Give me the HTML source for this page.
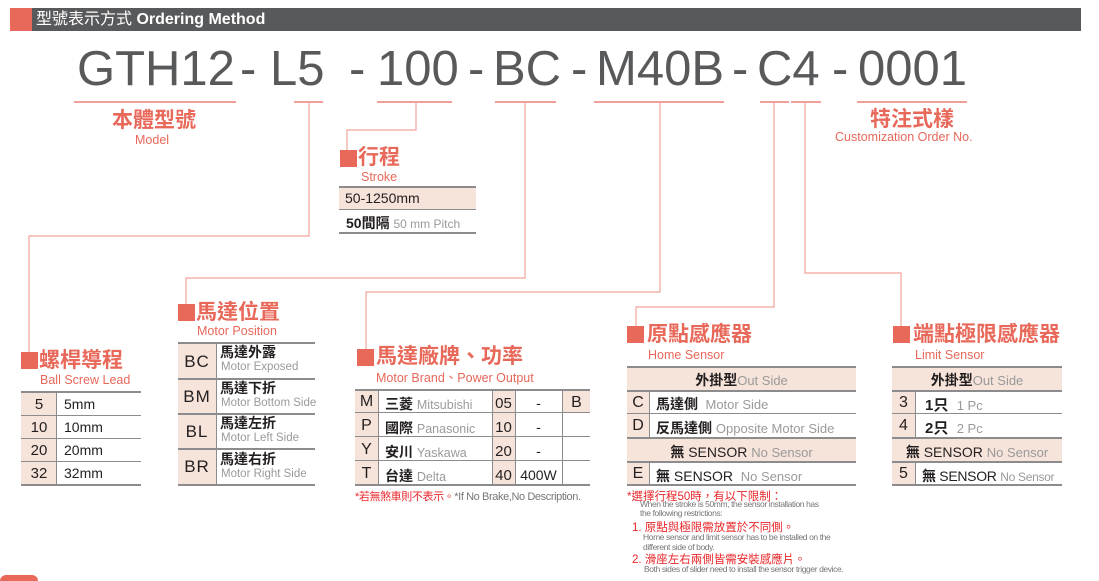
<!DOCTYPE html>
<html><head><meta charset="utf-8">
<style>
*{margin:0;padding:0;box-sizing:border-box}
body{width:1099px;height:577px;background:#fff;position:relative;overflow:hidden;font-family:"Liberation Sans","Noto Sans CJK TC",sans-serif;color:#231f20}
.a{position:absolute;white-space:nowrap}
.sq{position:absolute;width:17px;height:17px;background:#e8685a}
.ti{position:absolute;font-size:21px;font-weight:bold;color:#e8685a;line-height:22px;white-space:nowrap}
.en{position:absolute;font-size:12.5px;color:#e8685a;line-height:14px;white-space:nowrap}
.hl{position:absolute;background:#8c8c8e}
.pk{position:absolute;background:#f6e3d9}
.c{position:absolute;text-align:center;white-space:nowrap}
.g{color:#9a9a9a;font-weight:normal}
.b{font-weight:bold}
</style></head><body>
<!-- header -->
<div class="a" style="left:10px;top:8px;width:22px;height:23px;background:#e8685a"></div>
<div class="a" style="left:32px;top:8px;width:1049px;height:23px;background:#58595b"></div>
<div class="a" style="left:36px;top:10px;font-size:16px;color:#fff;line-height:20px">型號表示方式 <b>Ordering Method</b></div>

<svg class="a" style="left:0;top:0" width="1099" height="577">
<g font-family="Liberation Sans,sans-serif" font-size="49" fill="#58595b">
<text x="77" y="85">GTH12</text><text x="240" y="85">-</text>
<text x="270" y="85">L5</text><text x="349" y="85">-</text>
<text x="377" y="85">100</text><text x="468" y="85">-</text>
<text x="493" y="85">BC</text><text x="571" y="85">-</text>
<text x="596" y="85">M40B</text><text x="732" y="85">-</text>
<text x="757" y="85">C4</text><text x="832" y="85">-</text>
<text x="858" y="85">0001</text>
</g>
<g stroke="#e8685a" stroke-width="1.2">
<line x1="74" y1="102" x2="236" y2="102"/>
<line x1="294" y1="102" x2="323" y2="102"/>
<line x1="377" y1="102" x2="452" y2="102"/>
<line x1="495" y1="102" x2="556" y2="102"/>
<line x1="594" y1="102" x2="724" y2="102"/>
<line x1="760" y1="102" x2="789" y2="102"/>
<line x1="791" y1="102" x2="821" y2="102"/>
<line x1="857" y1="102" x2="967" y2="102"/>
</g>
<g stroke="#f2a39b" stroke-width="1.2" fill="none">
<polyline points="309,102 309,236 29,236 29,354"/>
<polyline points="416,102 416,130 347,130 347,152"/>
<polyline points="525,102 525,278 186,278 186,305"/>
<polyline points="660,102 660,292 366,292 366,350"/>
<polyline points="774,102 774,307 636,307 636,328"/>
<polyline points="805,102 805,273 901,273 901,328"/>
</g>
</svg>

<!-- model -->
<div class="ti" style="left:112px;top:110px">本體型號</div>
<div class="en" style="left:135px;top:133px">Model</div>
<!-- custom -->
<div class="ti" style="left:870px;top:109px">特注式樣</div>
<div class="en" style="left:835px;top:130px">Customization Order No.</div>

<!-- stroke -->
<div class="sq" style="left:340px;top:150px"></div>
<div class="ti" style="left:358px;top:147px">行程</div>
<div class="en" style="left:361px;top:170px">Stroke</div>
<div class="pk" style="left:339px;top:188px;width:137px;height:21px"></div>
<div class="hl" style="left:339px;top:186px;width:137px;height:2px"></div>
<div class="hl" style="left:339px;top:209px;width:137px;height:1px"></div>
<div class="hl" style="left:339px;top:232px;width:137px;height:2px"></div>
<div class="a" style="left:345px;top:190px;font-size:14px">50-1250mm</div>
<div class="a" style="left:346px;top:213px;font-size:14px"><b>50間隔</b> <span class="g" style="font-size:12px">50 mm Pitch</span></div>

<!-- ball screw -->
<div class="sq" style="left:21px;top:352px"></div>
<div class="ti" style="left:39px;top:350px">螺桿導程</div>
<div class="en" style="left:40px;top:373px">Ball Screw Lead</div>
<div class="pk" style="left:21px;top:392px;width:36px;height:93px"></div>
<div class="hl" style="left:21px;top:391px;width:120px;height:2px"></div>
<div class="hl" style="left:21px;top:415px;width:120px;height:1px"></div>
<div class="hl" style="left:21px;top:438px;width:120px;height:1px"></div>
<div class="hl" style="left:21px;top:461px;width:120px;height:1px"></div>
<div class="hl" style="left:21px;top:484px;width:120px;height:2px"></div>
<div class="hl" style="left:56px;top:392px;width:1px;height:93px"></div>
<div class="c" style="left:21px;width:36px;top:396px;font-size:15px">5</div>
<div class="c" style="left:21px;width:36px;top:419px;font-size:15px">10</div>
<div class="c" style="left:21px;width:36px;top:442px;font-size:15px">20</div>
<div class="c" style="left:21px;width:36px;top:465px;font-size:15px">32</div>
<div class="a" style="left:64px;top:396px;font-size:14px">5mm</div>
<div class="a" style="left:64px;top:419px;font-size:14px">10mm</div>
<div class="a" style="left:64px;top:442px;font-size:14px">20mm</div>
<div class="a" style="left:64px;top:465px;font-size:14px">32mm</div>

<!-- motor position -->
<div class="sq" style="left:178px;top:304px"></div>
<div class="ti" style="left:196px;top:302px">馬達位置</div>
<div class="en" style="left:197px;top:324px">Motor Position</div>
<div class="pk" style="left:178px;top:344px;width:38px;height:141px"></div>
<div class="hl" style="left:178px;top:342px;width:137px;height:2px"></div>
<div class="hl" style="left:178px;top:378px;width:137px;height:2px"></div>
<div class="hl" style="left:178px;top:413px;width:137px;height:2px"></div>
<div class="hl" style="left:178px;top:448px;width:137px;height:2px"></div>
<div class="hl" style="left:178px;top:484px;width:137px;height:2px"></div>
<div class="hl" style="left:216px;top:344px;width:1px;height:141px"></div>
<div class="c" style="left:178px;width:38px;top:352px;font-size:17px;letter-spacing:1px">BC</div>
<div class="c" style="left:178px;width:38px;top:387px;font-size:17px;letter-spacing:1px">BM</div>
<div class="c" style="left:178px;width:38px;top:422px;font-size:17px;letter-spacing:1px">BL</div>
<div class="c" style="left:178px;width:38px;top:457px;font-size:17px;letter-spacing:1px">BR</div>
<div class="a b" style="left:220px;top:344px;font-size:14px;line-height:17px">馬達外露</div>
<div class="a g" style="left:221px;top:361px;font-size:11.5px">Motor Exposed</div>
<div class="a b" style="left:220px;top:380px;font-size:14px;line-height:17px">馬達下折</div>
<div class="a g" style="left:221px;top:397px;font-size:11.5px">Motor Bottom Side</div>
<div class="a b" style="left:220px;top:415px;font-size:14px;line-height:17px">馬達左折</div>
<div class="a g" style="left:221px;top:432px;font-size:11.5px">Motor Left Side</div>
<div class="a b" style="left:220px;top:451px;font-size:14px;line-height:17px">馬達右折</div>
<div class="a g" style="left:221px;top:468px;font-size:11.5px">Motor Right Side</div>

<!-- motor brand -->
<div class="sq" style="left:357px;top:349px"></div>
<div class="ti" style="left:376px;top:346px">馬達廠牌、功率</div>
<div class="en" style="left:376px;top:371px">Motor Brand、Power Output</div>
<div class="pk" style="left:355px;top:391px;width:23px;height:94px"></div>
<div class="pk" style="left:492px;top:391px;width:23px;height:94px"></div>
<div class="pk" style="left:563px;top:391px;width:27px;height:21px"></div>
<div class="hl" style="left:355px;top:389px;width:235px;height:2px"></div>
<div class="hl" style="left:355px;top:412px;width:235px;height:1px"></div>
<div class="hl" style="left:355px;top:436px;width:235px;height:1px"></div>
<div class="hl" style="left:355px;top:460px;width:235px;height:1px"></div>
<div class="hl" style="left:355px;top:484px;width:235px;height:2px"></div>
<div class="hl" style="left:378px;top:391px;width:1px;height:94px"></div>
<div class="hl" style="left:492px;top:391px;width:1px;height:94px"></div>
<div class="hl" style="left:515px;top:391px;width:1px;height:94px"></div>
<div class="hl" style="left:562px;top:391px;width:1px;height:94px"></div>
<div class="c" style="left:355px;width:23px;top:393px;font-size:16px">M</div>
<div class="c" style="left:355px;width:23px;top:417px;font-size:16px">P</div>
<div class="c" style="left:355px;width:23px;top:441px;font-size:16px">Y</div>
<div class="c" style="left:355px;width:23px;top:465px;font-size:16px">T</div>
<div class="a" style="left:385px;top:394px;font-size:14px"><b>三菱</b> <span class="g" style="font-size:12.5px">Mitsubishi</span></div>
<div class="a" style="left:385px;top:418px;font-size:14px"><b>國際</b> <span class="g" style="font-size:12.5px">Panasonic</span></div>
<div class="a" style="left:385px;top:442px;font-size:14px"><b>安川</b> <span class="g" style="font-size:12.5px">Yaskawa</span></div>
<div class="a" style="left:385px;top:466px;font-size:14px"><b>台達</b> <span class="g" style="font-size:12.5px">Delta</span></div>
<div class="c" style="left:492px;width:23px;top:395px;font-size:15px">05</div>
<div class="c" style="left:492px;width:23px;top:419px;font-size:15px">10</div>
<div class="c" style="left:492px;width:23px;top:443px;font-size:15px">20</div>
<div class="c" style="left:492px;width:23px;top:467px;font-size:15px">40</div>
<div class="c" style="left:515px;width:47px;top:395px;font-size:14px">-</div>
<div class="c" style="left:515px;width:47px;top:419px;font-size:14px">-</div>
<div class="c" style="left:515px;width:47px;top:443px;font-size:14px">-</div>
<div class="c" style="left:515px;width:47px;top:467px;font-size:14px">400W</div>
<div class="c" style="left:563px;width:27px;top:394px;font-size:16px">B</div>
<div class="a" style="left:355px;top:488px;font-size:11px;letter-spacing:-0.4px"><span style="color:#e8262a">*若無煞車則不表示。</span><span style="color:#777">*If No Brake,No Description.</span></div>

<!-- home sensor -->
<div class="sq" style="left:627px;top:326px"></div>
<div class="ti" style="left:647px;top:324px">原點感應器</div>
<div class="en" style="left:648px;top:348px">Home Sensor</div>
<div class="pk" style="left:627px;top:368px;width:229px;height:22px"></div>
<div class="pk" style="left:627px;top:438px;width:229px;height:23px"></div>
<div class="pk" style="left:627px;top:390px;width:22px;height:95px"></div>
<div class="hl" style="left:627px;top:366px;width:229px;height:2px"></div>
<div class="hl" style="left:627px;top:390px;width:229px;height:2px"></div>
<div class="hl" style="left:627px;top:413px;width:229px;height:1px"></div>
<div class="hl" style="left:627px;top:437px;width:229px;height:2px"></div>
<div class="hl" style="left:627px;top:461px;width:229px;height:2px"></div>
<div class="hl" style="left:627px;top:484px;width:229px;height:2px"></div>
<div class="hl" style="left:649px;top:392px;width:1px;height:45px"></div>
<div class="hl" style="left:649px;top:463px;width:1px;height:21px"></div>
<div class="c" style="left:627px;width:229px;top:370px;font-size:14px"><b>外掛型</b><span class="g" style="font-size:13px">Out Side</span></div>
<div class="c" style="left:627px;width:22px;top:394px;font-size:16px">C</div>
<div class="c" style="left:627px;width:22px;top:417px;font-size:16px">D</div>
<div class="a" style="left:656px;top:394px;font-size:14px"><b>馬達側</b> <span class="g" style="font-size:13px">&nbsp;Motor Side</span></div>
<div class="a" style="left:656px;top:418px;font-size:14px"><b>反馬達側</b> <span class="g" style="font-size:13px">Opposite Motor Side</span></div>
<div class="c" style="left:627px;width:229px;top:442px;font-size:14px"><b>無</b> SENSOR <span class="g" style="font-size:13px">No Sensor</span></div>
<div class="c" style="left:627px;width:22px;top:465px;font-size:16px">E</div>
<div class="a" style="left:656px;top:466px;font-size:14px"><b>無</b> SENSOR &nbsp;<span class="g" style="font-size:13px">No Sensor</span></div>
<div class="a" style="left:627px;top:488px;font-size:11.5px;color:#e8262a">*選擇行程50時，有以下限制：</div>
<div class="a" style="left:640px;top:500px;font-size:8.5px;color:#777;letter-spacing:-0.4px;line-height:9px">When the stroke is 50mm, the sensor installation has<br>the following restrictions:</div>
<div class="a" style="left:632px;top:519px;font-size:11.5px;color:#e8262a">1. 原點與極限需放置於不同側。</div>
<div class="a" style="left:643px;top:532px;font-size:8.5px;color:#777;letter-spacing:-0.4px;line-height:10px">Home sensor and limit sensor has to be installed on the<br>different side of body.</div>
<div class="a" style="left:632px;top:551px;font-size:11.5px;color:#e8262a">2. 滑座左右兩側皆需安裝感應片。</div>
<div class="a" style="left:644px;top:564px;font-size:8.5px;color:#777;letter-spacing:-0.4px">Both sides of slider need to install the sensor trigger device.</div>

<!-- limit sensor -->
<div class="sq" style="left:893px;top:326px"></div>
<div class="ti" style="left:913px;top:324px">端點極限感應器</div>
<div class="en" style="left:915px;top:348px">Limit Sensor</div>
<div class="pk" style="left:892px;top:368px;width:170px;height:22px"></div>
<div class="pk" style="left:892px;top:438px;width:170px;height:23px"></div>
<div class="pk" style="left:892px;top:390px;width:23px;height:95px"></div>
<div class="hl" style="left:892px;top:366px;width:170px;height:2px"></div>
<div class="hl" style="left:892px;top:390px;width:170px;height:2px"></div>
<div class="hl" style="left:892px;top:413px;width:170px;height:1px"></div>
<div class="hl" style="left:892px;top:437px;width:170px;height:2px"></div>
<div class="hl" style="left:892px;top:461px;width:170px;height:2px"></div>
<div class="hl" style="left:892px;top:484px;width:170px;height:2px"></div>
<div class="hl" style="left:915px;top:392px;width:1px;height:45px"></div>
<div class="hl" style="left:915px;top:463px;width:1px;height:21px"></div>
<div class="c" style="left:892px;width:170px;top:370px;font-size:14px"><b>外掛型</b><span class="g" style="font-size:13px">Out Side</span></div>
<div class="c" style="left:892px;width:23px;top:394px;font-size:16px">3</div>
<div class="c" style="left:892px;width:23px;top:417px;font-size:16px">4</div>
<div class="a" style="left:925px;top:394px;font-size:15px"><b>1只</b> &nbsp;<span class="g" style="font-size:13px">1 Pc</span></div>
<div class="a" style="left:925px;top:417px;font-size:15px"><b>2只</b> &nbsp;<span class="g" style="font-size:13px">2 Pc</span></div>
<div class="c" style="left:892px;width:170px;top:442px;font-size:14px"><b>無</b> SENSOR <span class="g" style="font-size:13px">No Sensor</span></div>
<div class="c" style="left:892px;width:23px;top:465px;font-size:16px">5</div>
<div class="a" style="left:922px;top:466px;font-size:14px;letter-spacing:-0.3px"><b>無</b> SENSOR <span class="g" style="font-size:12px">No Sensor</span></div>

<div class="a" style="left:0;top:575px;width:38px;height:6px;border-radius:6px 6px 0 0;background:#e8685a"></div>
</body></html>
